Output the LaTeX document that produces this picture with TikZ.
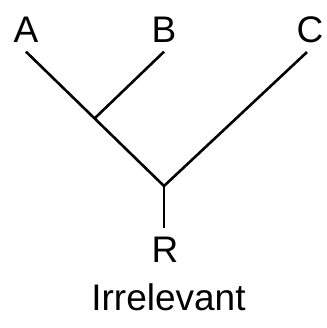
\documentclass[tikz,border=0pt]{standalone}
\usepackage{fontspec}
\setmainfont{Liberation Sans}
\tikzset{
  leaf/.style={inner sep=8.5pt, font=\fontsize{37}{40}\selectfont},
  branch/.style={color=black, line width=2.6pt}
}
\begin{document}
\begin{tikzpicture}[x=1pt,y=-1pt]

% The frame
\useasboundingbox (0,0) rectangle (326,328);

% The labels
\node[leaf, anchor=base] (a) at (26,43) {A};
\node[leaf, anchor=base] (b) at (164,43) {B};
\node[leaf, anchor=base] (c) at (310,43) {C};
\node[leaf, anchor=base] (r) at (165,262) {R};
\node[leaf, anchor=base] (title) at (168.5,310) {Irrelevant};

% The junctions
\coordinate (root) at (164,186);
\coordinate (ab) at (94.5,118.5);

% The branches
\draw[branch] (a.south) -- (root);
\draw[branch] (b.south) -- (ab);
\draw[branch] ([xshift=-3pt]c.south) -- (root);
\draw[branch] (root) -- (r.north -| root);

\end{tikzpicture}
\end{document}
